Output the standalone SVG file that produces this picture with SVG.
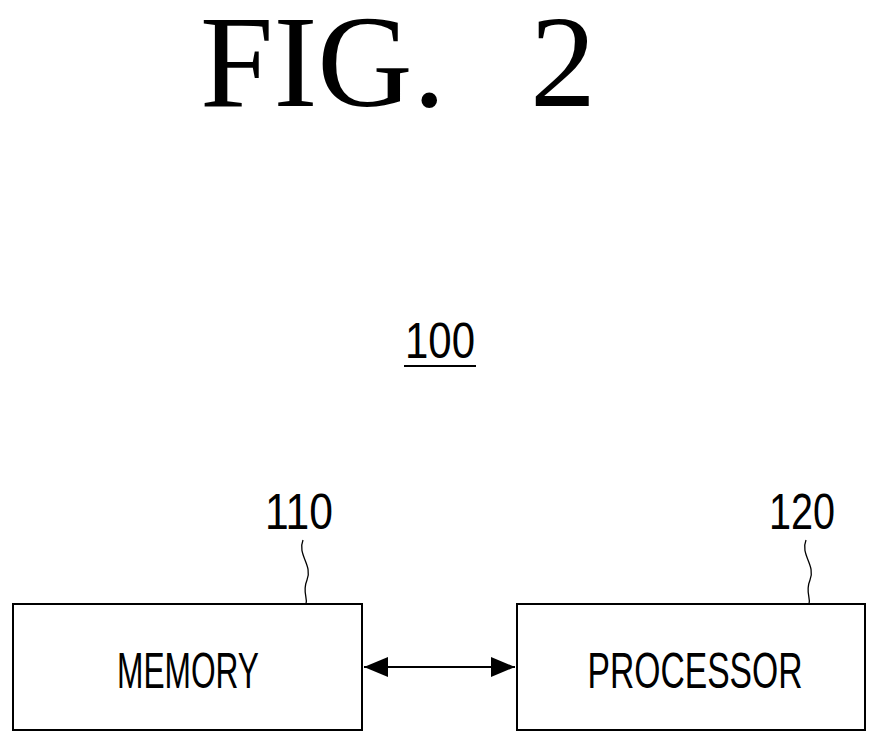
<svg xmlns="http://www.w3.org/2000/svg" width="882" height="749" viewBox="0 0 882 749">
<defs>
<marker id="ah" viewBox="0 0 24 20" refX="24" refY="10" markerWidth="24" markerHeight="20" markerUnits="userSpaceOnUse" orient="auto-start-reverse"><path d="M0,0 L24,10 L0,20 z" fill="#000"/></marker>
<style>
.box{fill:#fff;stroke:#000;stroke-width:2}
.lbl{font-family:"Liberation Sans",Arial,sans-serif;font-size:50px;fill:#000}
.ld{fill:none;stroke:#000;stroke-width:1.3}
</style>
</defs>
<rect width="882" height="749" fill="#fff"/>
<text y="106" font-family="Liberation Serif,serif" font-size="132"><tspan x="200">FIG.</tspan><tspan x="530">2</tspan></text>
<g id="ref100"><text class="lbl" x="440" y="358" text-anchor="middle" textLength="70" lengthAdjust="spacingAndGlyphs">100</text><line x1="404" y1="366" x2="476" y2="366" stroke="#000" stroke-width="2"/></g>
<g id="memory"><rect class="box" x="13" y="604" width="349" height="126"/><text class="lbl" x="188" y="688" text-anchor="middle" textLength="142" lengthAdjust="spacingAndGlyphs">MEMORY</text>
<text class="lbl" x="299" y="529" text-anchor="middle" textLength="68" lengthAdjust="spacingAndGlyphs">110</text>
<path class="ld" d="M303,540 C297,555 313,565 307,580 C302,592 308,598 306,604"/></g>
<g id="processor"><rect class="box" x="517" y="604" width="348" height="126"/><text class="lbl" x="695" y="688" text-anchor="middle" textLength="215" lengthAdjust="spacingAndGlyphs">PROCESSOR</text>
<text class="lbl" x="802" y="529" text-anchor="middle" textLength="66" lengthAdjust="spacingAndGlyphs">120</text>
<path class="ld" d="M806,540 C800,555 816,565 810,580 C805,592 811,598 809,604"/></g>
<g id="connectors"><line x1="364" y1="667" x2="515" y2="667" stroke="#000" stroke-width="2" marker-start="url(#ah)" marker-end="url(#ah)"/></g>
</svg>
